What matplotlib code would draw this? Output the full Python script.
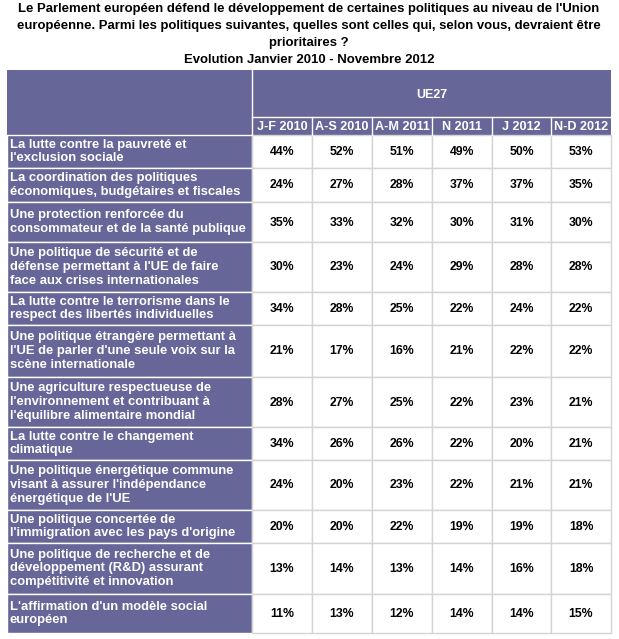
import matplotlib.pyplot as plt
from matplotlib.patches import Rectangle

# ==========================
# DATA
# ==========================

title_lines = [
    "Le Parlement européen défend le développement de certaines politiques au niveau de l'Union",
    "européenne. Parmi les politiques suivantes, quelles sont celles qui, selon vous, devraient être",
    "prioritaires ?",
]
subtitle = "Evolution Janvier 2010 - Novembre 2012"
group_label = "UE27"

periods = ["J-F 2010", "A-S 2010", "A-M 2011", "N 2011", "J 2012", "N-D 2012"]

policies = [
    "La lutte contre la pauvreté et\nl'exclusion sociale",
    "La coordination des politiques\néconomiques, budgétaires et fiscales",
    "Une protection renforcée du\nconsommateur et de la santé publique",
    "Une politique de sécurité et de\ndéfense permettant à l'UE de faire\nface aux crises internationales",
    "La lutte contre le terrorisme dans le\nrespect des libertés individuelles",
    "Une politique étrangère permettant à\nl'UE de parler d'une seule voix sur la\nscène internationale",
    "Une agriculture respectueuse de\nl'environnement et contribuant à\nl'équilibre alimentaire mondial",
    "La lutte contre le changement\nclimatique",
    "Une politique énergétique commune\nvisant à assurer l'indépendance\nénergétique de l'UE",
    "Une politique concertée de\nl'immigration avec les pays d'origine",
    "Une politique de recherche et de\ndéveloppement (R&D) assurant\ncompétitivité et innovation",
    "L'affirmation d'un modèle social\neuropéen",
]

jf_2010 = [44, 24, 35, 30, 34, 21, 28, 34, 24, 20, 13, 11]
as_2010 = [52, 27, 33, 23, 28, 17, 27, 26, 20, 20, 14, 13]
am_2011 = [51, 28, 32, 24, 25, 16, 25, 26, 23, 22, 13, 12]
n_2011 = [49, 37, 30, 29, 22, 21, 22, 22, 22, 19, 14, 14]
j_2012 = [50, 37, 31, 28, 24, 22, 23, 20, 21, 19, 16, 14]
nd_2012 = [53, 35, 30, 28, 22, 22, 21, 21, 21, 18, 18, 15]

columns = [jf_2010, as_2010, am_2011, n_2011, j_2012, nd_2012]

# ==========================
# LAYOUT (pixels)
# ==========================

W, H = 619, 639
x_left = 7
col_edges = [252, 312, 372, 432, 492, 551, 611]
y_head_top = 70
y_sub_top = 117
row_edges = [135, 168, 202, 242, 292, 325, 377, 427, 460, 510, 543, 594, 633]

purple = "#666699"
grid = "#d4d4d4"
font = "Liberation Sans"

fig = plt.figure(figsize=(W / 100, H / 100), dpi=100)
ax = fig.add_axes([0, 0, 1, 1])
ax.set_xlim(0, W)
ax.set_ylim(H, 0)
ax.axis("off")

# titre
for i, line in enumerate(title_lines):
    ax.text(309, 9 + i * 16.8, line, ha="center", va="center",
            fontsize=9.45, fontweight="bold", family=font)
ax.text(309, 60, subtitle, ha="center", va="center",
        fontsize=9.45, fontweight="bold", family=font)

# en-tete
ax.add_patch(Rectangle((x_left, y_head_top), col_edges[-1] - x_left,
                       row_edges[0] - y_head_top, facecolor=purple,
                       edgecolor="none"))
ax.plot([col_edges[0], col_edges[0]], [y_head_top, row_edges[0]],
        color="white", lw=1)
ax.plot([col_edges[0], col_edges[-1]], [y_sub_top, y_sub_top],
        color="white", lw=1)
ax.text((col_edges[0] + col_edges[-1]) / 2, 95,
        group_label, ha="center", va="center", color="white",
        fontsize=9, fontweight="bold", family=font)

for j, p in enumerate(periods):
    x0, x1 = col_edges[j], col_edges[j + 1]
    if j > 0:
        ax.plot([x0, x0], [y_sub_top, row_edges[0]], color="white", lw=1)
    ax.text((x0 + x1) / 2, (y_sub_top + row_edges[0]) / 2 + 0.5, p,
            ha="center", va="center", color="white",
            fontsize=9.1, fontweight="bold", family=font)

# lignes
for i, label in enumerate(policies):
    y0, y1 = row_edges[i], row_edges[i + 1]
    ax.add_patch(Rectangle((x_left, y0), col_edges[0] - x_left, y1 - y0,
                           facecolor=purple, edgecolor="white", lw=1))
    ax.text(x_left + 3, (y0 + y1) / 2, label, ha="left", va="center",
            color="white", fontsize=9.4, fontweight="bold", family=font,
            linespacing=1.2)
    for j, col in enumerate(columns):
        x0, x1 = col_edges[j], col_edges[j + 1]
        ax.add_patch(Rectangle((x0, y0), x1 - x0, y1 - y0,
                               facecolor="white", edgecolor=grid, lw=1))
        ax.text((x0 + x1) / 2, (y0 + y1) / 2 + 0.5, f"{col[i]}%",
                ha="center", va="center", color="black",
                fontsize=8.8, fontweight="bold", family=font)

fig.savefig("out.png", dpi=100)
